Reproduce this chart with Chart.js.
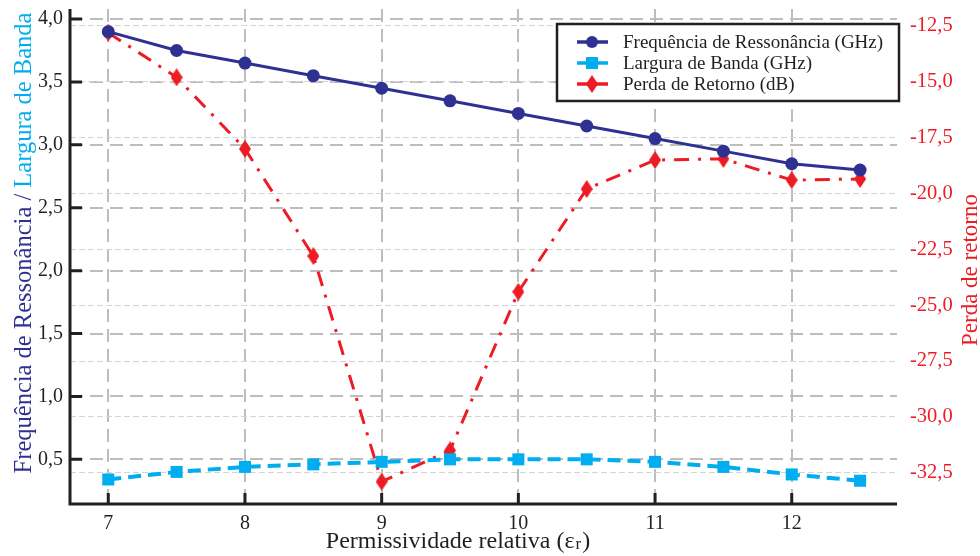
<!DOCTYPE html>
<html><head><meta charset="utf-8">
<script src="https://cdn.jsdelivr.net/npm/chart.js@4"></script>
<style>html,body{margin:0;padding:0;background:#fff}#wrap{width:980px;height:556px;position:relative}</style>
</head><body><div id="wrap"><canvas id="c" width="980" height="556"></canvas></div>
<script>
const permittivity = [7, 7.5, 8, 8.5, 9, 9.5, 10, 10.5, 11, 11.5, 12, 12.5];
const resonanceGHz = [3.90, 3.75, 3.65, 3.55, 3.45, 3.35, 3.25, 3.15, 3.05, 2.95, 2.85, 2.80];
const bandwidthGHz = [0.34, 0.40, 0.44, 0.46, 0.48, 0.50, 0.50, 0.50, 0.48, 0.44, 0.38, 0.33];
const returnLossDB = [-12.8, -14.8, -18.0, -22.8, -32.9, -31.5, -24.4, -19.8, -18.5, -18.45, -19.4, -19.35];
const xTickValues = [7, 8, 9, 10, 11, 12];
const leftTickValues = [0.5, 1.0, 1.5, 2.0, 2.5, 3.0, 3.5, 4.0];
const rightTickValues = [-32.5, -30.0, -27.5, -25.0, -22.5, -20.0, -17.5, -15.0, -12.5];
const seriesNames = ['Frequência de Ressonância (GHz)', 'Largura de Banda (GHz)', 'Perda de Retorno (dB)'];
const xTitle = 'Permissividade relativa (ε';
const xTitleSub = 'r';
const leftTitleA = 'Frequência de Ressonância / ';
const leftTitleB = 'Largura de Banda';
const rightTitle = 'Perda de retorno';

const NAVY = '#2e3192', CYAN = '#00aeef', RED = '#ed1c24', INK = '#231f20';
const SERIF = '"Liberation Serif", "Times New Roman", serif';

function diamondImg(w, h, color) {
  const c = document.createElement('canvas');
  c.width = w; c.height = h;
  const g = c.getContext('2d');
  g.fillStyle = color;
  g.beginPath(); g.moveTo(w / 2, 0); g.lineTo(w, h / 2); g.lineTo(w / 2, h); g.lineTo(0, h / 2); g.closePath(); g.fill();
  return c;
}
const diamond = diamondImg(12, 18, RED);

const fmt = v => v.toFixed(1).replace('.', ',');
const pts = arr => permittivity.map((x, i) => ({ x, y: arr[i] }));
const noPad = s => { s.paddingTop = 0; s.paddingBottom = 0; s.paddingLeft = 0; s.paddingRight = 0; };

const deco = {
  id: 'deco',
  afterDatasetsDraw(chart) {
    const { ctx, chartArea: a, scales } = chart;
    ctx.save();
    ctx.setLineDash([]);
    ctx.strokeStyle = INK; ctx.lineWidth = 3;
    ctx.beginPath();
    ctx.moveTo(a.left, a.top); ctx.lineTo(a.left, a.bottom); ctx.lineTo(a.right, a.bottom);
    ctx.stroke();
    ctx.beginPath();
    leftTickValues.forEach(v => { const y = scales.y.getPixelForValue(v); ctx.moveTo(a.left, y); ctx.lineTo(a.left + 12, y); });
    xTickValues.forEach(v => { const x = scales.x.getPixelForValue(v); ctx.moveTo(x, a.bottom); ctx.lineTo(x, a.bottom - 11); });
    ctx.stroke();

    // legend
    const bx = 557, by = 24, bw = 342, bh = 77;
    ctx.fillStyle = '#fff'; ctx.fillRect(bx, by, bw, bh);
    ctx.lineWidth = 2.5; ctx.strokeStyle = INK; ctx.strokeRect(bx, by, bw, bh);
    const rows = [42, 63, 84];
    const cols = [NAVY, CYAN, RED];
    ctx.font = '19px ' + SERIF; ctx.textBaseline = 'middle'; ctx.textAlign = 'left';
    rows.forEach((ry, i) => {
      ctx.strokeStyle = cols[i]; ctx.lineWidth = 3.5;
      ctx.beginPath(); ctx.moveTo(577, ry); ctx.lineTo(608, ry); ctx.stroke();
      ctx.fillStyle = cols[i];
      if (i === 0) { ctx.beginPath(); ctx.arc(592, ry, 6, 0, Math.PI * 2); ctx.fill(); }
      else if (i === 1) { ctx.fillRect(586, ry - 6, 12, 12); }
      else { ctx.drawImage(diamond, 586, ry - 9); }
      ctx.fillStyle = INK;
      ctx.fillText(seriesNames[i], 623, ry + 1);
    });

    // x title
    const big = '24px ' + SERIF, small = '17px ' + SERIF;
    ctx.font = big;
    const w1 = ctx.measureText(xTitle).width;
    ctx.font = small;
    const w2 = ctx.measureText(xTitleSub).width;
    ctx.font = big;
    const w3 = ctx.measureText(')').width;
    const sx = 458 - (w1 + w2 + 2 + w3) / 2;
    const ty = 548;
    ctx.fillStyle = INK; ctx.textBaseline = 'alphabetic';
    ctx.fillText(xTitle, sx, ty);
    ctx.font = small; ctx.fillText(xTitleSub, sx + w1 + 1, ty + 1);
    ctx.font = big; ctx.fillText(')', sx + w1 + w2 + 2, ty);

    // left title
    ctx.save();
    ctx.font = '24.5px ' + SERIF;
    ctx.translate(31, 243); ctx.rotate(-Math.PI / 2);
    const la = ctx.measureText(leftTitleA).width, lb = ctx.measureText(leftTitleB).width;
    const lx = -(la + lb) / 2;
    ctx.fillStyle = NAVY; ctx.fillText(leftTitleA, lx, 0);
    ctx.fillStyle = CYAN; ctx.fillText(leftTitleB, lx + la, 0);
    ctx.restore();

    // right title
    ctx.save();
    ctx.font = '23px ' + SERIF;
    ctx.translate(977, 270); ctx.rotate(-Math.PI / 2);
    ctx.fillStyle = RED; ctx.textAlign = 'center';
    ctx.fillText(rightTitle, 0, 0);
    ctx.restore();

    ctx.restore();
  }
};

new Chart(document.getElementById('c'), {
  type: 'line',
  data: {
    datasets: [
      { label: seriesNames[0], data: pts(resonanceGHz), yAxisID: 'y', borderColor: NAVY, backgroundColor: NAVY,
        borderWidth: 3, pointStyle: 'circle', pointRadius: 6.5, pointBorderWidth: 0 },
      { label: seriesNames[1], data: pts(bandwidthGHz), yAxisID: 'y', borderColor: CYAN, backgroundColor: CYAN,
        borderWidth: 4, borderDash: [13, 7], pointStyle: 'rect', pointRadius: 8.5, pointBorderWidth: 0 },
      { label: seriesNames[2], data: pts(returnLossDB), yAxisID: 'y2', borderColor: RED, backgroundColor: RED,
        borderWidth: 3, borderDash: [15, 9, 3, 9], pointStyle: diamond, pointRadius: 9, pointBorderWidth: 0 }
    ]
  },
  options: {
    responsive: false, animation: false,
    layout: { padding: { top: 8, left: 0, right: 0, bottom: 0 } },
    plugins: { legend: { display: false }, tooltip: { enabled: false } },
    elements: { line: { tension: 0, fill: false } },
    scales: {
      x: {
        type: 'linear', min: 6.72, max: 12.77,
        afterBuildTicks: s => { s.ticks = xTickValues.map(v => ({ value: v })); },
        afterFit: s => { s.height = 52; noPad(s); },
        grid: { color: '#bdbdbd', lineWidth: 2, drawTicks: false },
        border: { display: false, dash: [13, 7] },
        ticks: { padding: 8, color: INK, font: { family: SERIF, size: 20 }, callback: v => String(v) }
      },
      y: {
        position: 'left', min: 0.145, max: 4.08,
        afterBuildTicks: s => { s.ticks = leftTickValues.map(v => ({ value: v })); },
        afterFit: s => { s.width = 70; noPad(s); },
        grid: { color: '#bdbdbd', lineWidth: 2, drawTicks: false },
        border: { display: false, dash: [13, 7] },
        ticks: { padding: 7, color: INK, font: { family: SERIF, size: 20 }, callback: v => fmt(v) }
      },
      y2: {
        position: 'right', min: -33.9, max: -11.74,
        afterBuildTicks: s => { s.ticks = rightTickValues.map(v => ({ value: v })); },
        afterFit: s => { s.width = 83; noPad(s); },
        grid: { color: '#d4d4d4', lineWidth: 1, drawTicks: false },
        border: { display: false, dash: [6, 3] },
        ticks: { padding: 13, color: RED, font: { family: SERIF, size: 20.5 }, callback: v => fmt(v) }
      }
    }
  },
  plugins: [deco]
});
</script></body></html>
